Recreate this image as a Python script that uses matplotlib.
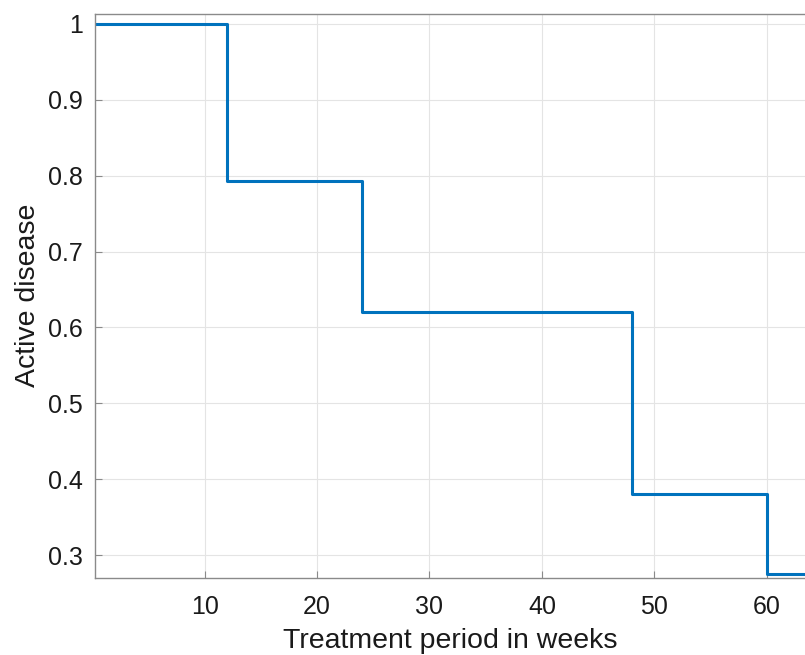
import matplotlib
matplotlib.use('Agg')
import matplotlib.pyplot as plt

# treatment weeks where the active-disease fraction changes
weeks = [0, 12, 24, 48, 60, 64]
active = [1.0, 0.793, 0.62, 0.38, 0.275, 0.275]

plt.rcParams['font.family'] = ['Liberation Sans', 'DejaVu Sans']

fig = plt.figure(figsize=(8.05, 6.55), dpi=100)
ax = fig.add_axes([95 / 805, 77 / 655, 1 - 95 / 805, (578 - 13.5) / 655])

ax.plot(weeks, active, drawstyle='steps-post', color='#0072BD', linewidth=2.2)

ax.set_xlim(0.25, 63.4)
ax.set_ylim(0.2697, 1.0138)
ax.set_xticks([10, 20, 30, 40, 50, 60])
ax.set_yticks([0.3, 0.4, 0.5, 0.6, 0.7, 0.8, 0.9, 1.0])
ax.set_yticklabels(['0.3', '0.4', '0.5', '0.6', '0.7', '0.8', '0.9', '1'])

ax.grid(True, color='#e4e4e4', linewidth=0.8)
ax.set_axisbelow(True)
ax.spines['right'].set_visible(False)
for s in ['left', 'bottom', 'top']:
    ax.spines[s].set_color('#8a8a8a')
    ax.spines[s].set_linewidth(1.0)
ax.tick_params(direction='in', length=5, width=0.8, color='#8a8a8a',
               labelsize=18, labelcolor='#1a1a1a')
ax.tick_params(axis='x', pad=12)
ax.tick_params(axis='y', pad=9)

ax.set_xlabel('Treatment period in weeks', fontsize=20.5, color='#1a1a1a', labelpad=7)
ax.set_ylabel('Active disease', fontsize=20.5, color='#1a1a1a', labelpad=5)

fig.savefig('out.png', dpi=100)
